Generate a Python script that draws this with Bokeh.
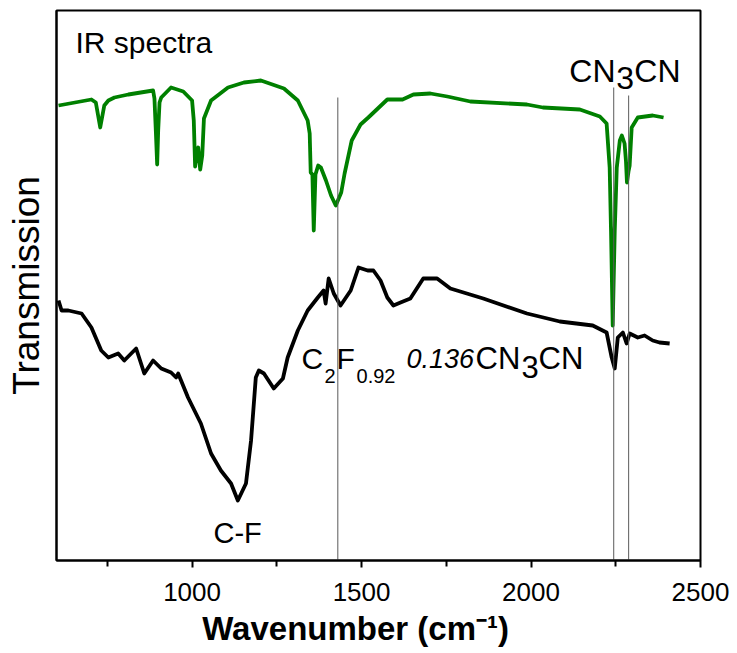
from bokeh.plotting import figure
from bokeh.models import Range1d, FixedTicker
from bokeh.embed import file_html
from bokeh.resources import INLINE
from bokeh.core.properties import value

# ---------------- data (wavenumber in cm^-1, transmission in arbitrary units) ----------------
green_wn = [606, 703, 716, 729, 741, 753, 771, 812, 885, 889, 893, 897, 900, 904, 909,
            938, 974, 1000, 1005, 1009, 1015, 1018, 1024, 1030, 1035, 1056, 1106, 1153,
            1203, 1271, 1312, 1341, 1347, 1350, 1355, 1359, 1364, 1372, 1380, 1395, 1410,
            1424, 1440, 1450, 1471, 1497, 1520, 1548, 1576, 1621, 1653, 1703, 1753, 1821,
            1988, 2035, 2144, 2203, 2223, 2232, 2236, 2241, 2247, 2253, 2262, 2268, 2276,
            2280, 2283, 2288, 2291, 2297, 2315, 2359, 2391]
green_tr = [455, 461, 458, 433, 455, 460, 463, 466, 470, 462, 430, 396, 430, 458, 463,
            473, 469, 460, 440, 394, 410, 413, 391, 405, 442, 460, 473, 478,
            480, 472, 460, 440, 427, 388, 386, 330, 386, 395, 393, 380, 365,
            355, 368, 387, 420, 436, 443, 452, 461, 461, 466, 467, 464, 459,
            456, 453, 451, 444, 437, 393, 330, 235, 330, 393, 420, 425, 417,
            400, 378, 390, 395, 433, 443, 445, 443]

black_wn = [606, 615, 635, 674, 703, 732, 753, 782, 800, 835, 859, 885, 909, 938, 953,
            959, 988, 1026, 1056, 1085, 1115, 1135, 1159, 1174, 1188, 1197, 1212, 1241,
            1268, 1282, 1312, 1341, 1371, 1388, 1394, 1403, 1418, 1438, 1468, 1491, 1518,
            1535, 1556, 1576, 1594, 1615, 1644, 1682, 1723, 1762, 1859, 1988, 2085, 2182,
            2223, 2238, 2247, 2256, 2271, 2282, 2291, 2315, 2335, 2359, 2379, 2409]
black_tr = [260, 250, 250, 247, 233, 210, 203, 207, 200, 212, 187, 200, 192, 188, 183,
            187, 163, 137, 107, 90, 77, 60, 77, 120, 183, 190, 187, 172,
            182, 203, 230, 250, 263, 270, 257, 282, 267, 255, 270, 293, 290,
            290, 280, 263, 255, 258, 262, 282, 282, 272, 262, 247, 239, 235,
            228, 203, 192, 223, 228, 217, 227, 223, 225, 220, 218, 217]

marker_wn = [1430, 2244, 2288]
marker_top = [463, 473, 465]

x_ticks = [1000, 1500, 2000, 2500]
x_minor = [750, 1250, 1750, 2250]

FONT = "Liberation Sans"

p = figure(width=737, height=653, output_backend="svg", toolbar_location=None,
           x_range=Range1d(600, 2500), y_range=Range1d(0, 550),
           min_border_left=56, min_border_right=37, min_border_top=10, min_border_bottom=93)
p.background_fill_color = "white"
p.border_fill_color = "white"
p.outline_line_color = "black"
p.outline_line_width = 2
p.xgrid.visible = False
p.ygrid.visible = False

# curves
p.line(green_wn, green_tr, line_color="#008000", line_width=3.8, line_join="round")
p.line(black_wn, black_tr, line_color="black", line_width=3.8, line_join="round")

# vertical guide lines
p.segment(x0=marker_wn, y0=[0] * len(marker_wn), x1=marker_wn, y1=marker_top,
          line_color="#5a5a5a", line_width=1)

# x axis
xa = p.xaxis[0]
xa.ticker = FixedTicker(ticks=x_ticks, minor_ticks=x_minor)
xa.axis_line_width = 2
xa.major_tick_in = 0
xa.major_tick_out = 7
xa.minor_tick_in = 0
xa.minor_tick_out = 6
xa.major_tick_line_width = 2
xa.minor_tick_line_width = 2
xa.major_label_text_font = FONT
xa.major_label_text_font_size = "26px"
xa.major_label_text_color = "black"
xa.major_label_standoff = 15
# trailing no-break spaces shift the centred title slightly left, as in the original
xa.axis_label = "Wavenumber (cm\u207b\u00b9)" + "\u00a0" * 5
xa.axis_label_text_font = FONT
xa.axis_label_text_font_style = "bold"
xa.axis_label_text_font_size = "33px"
xa.axis_label_text_color = "black"
xa.axis_label_standoff = 6

# y axis (line only)
ya = p.yaxis[0]
ya.ticker = FixedTicker(ticks=[])
ya.axis_line_width = 2
ya.major_tick_out = 0
ya.minor_tick_out = 0
ya.major_tick_in = 0
ya.minor_tick_in = 0
ya.axis_label = "Transmission"
ya.axis_label_text_font = FONT
ya.axis_label_text_font_style = "normal"
ya.axis_label_text_font_size = "37px"
ya.axis_label_text_color = "black"
ya.axis_label_standoff = 10


def add_text(x, y, s, size, dx=0, style="normal"):
    p.text(x=[x], y=[y], text=[s], x_offset=dx, text_font=value(FONT),
           text_font_size=value(size), text_font_style=style, text_color="black",
           text_align="left", text_baseline="alphabetic")


# annotations
add_text(656, 518, "IR spectra", "30px")

add_text(2113, 490, "CN", "32px", 0)
add_text(2113, 483, "3", "32px", 47)
add_text(2113, 490, "CN", "32px", 65)

add_text(1323, 202, "C", "30px", 0)
add_text(1323, 185, "2", "20px", 23)
add_text(1323, 202, "F", "30px", 35)
add_text(1323, 185, "0.92", "20px", 55)
add_text(1323, 202, "0.136", "27px", 105, "italic")
add_text(1323, 202, "CN", "31px", 174)
add_text(1323, 194, "3", "31px", 220)
add_text(1323, 202, "CN", "31px", 237)

add_text(1063, 28, "C-F", "29px")

open("out.html", "w").write(file_html(p, INLINE))
